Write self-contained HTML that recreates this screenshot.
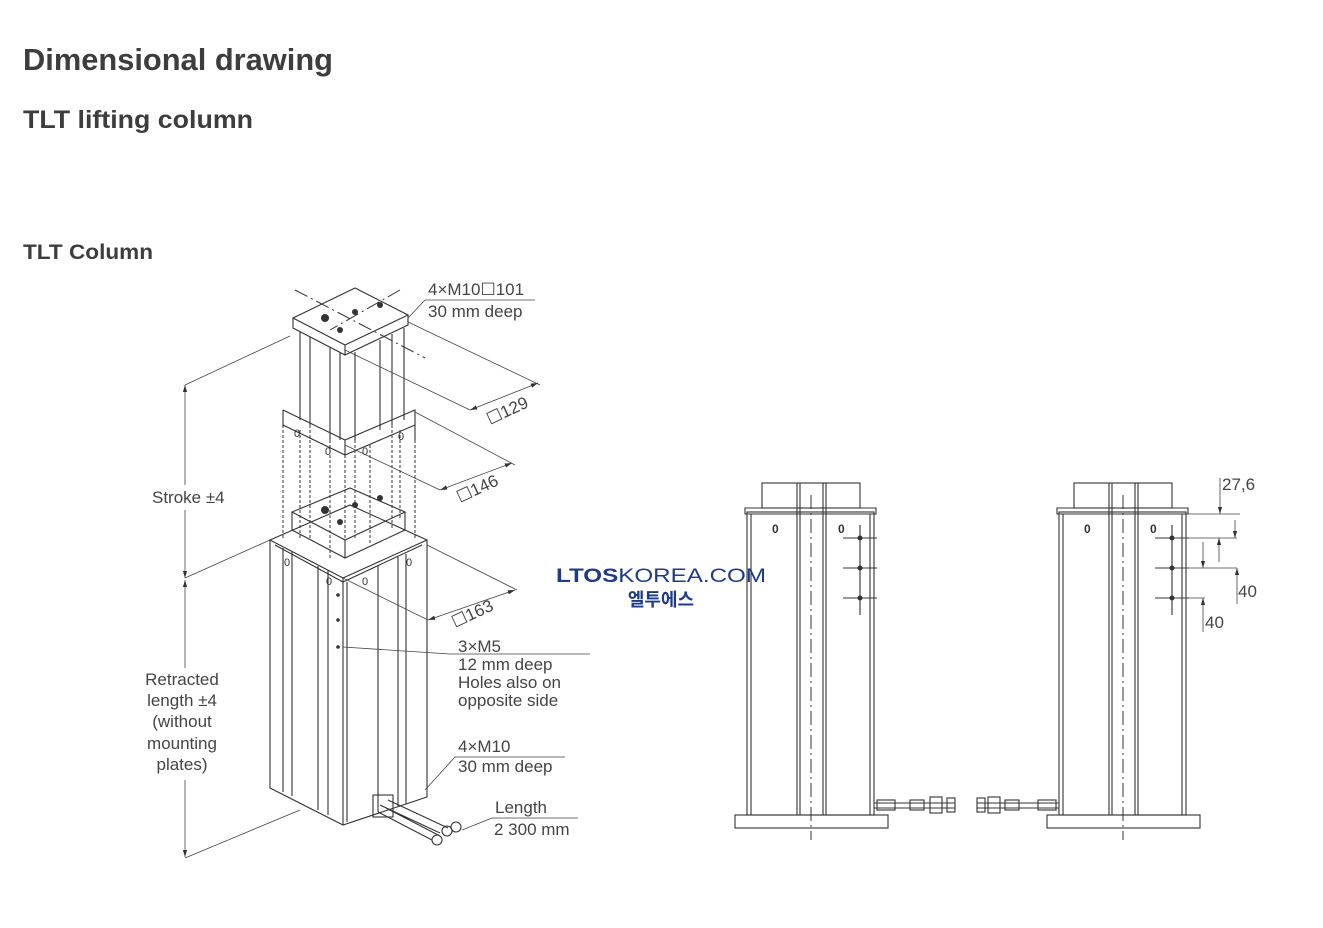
<!DOCTYPE html>
<html><head><meta charset="utf-8"><style>
html,body{margin:0;padding:0;background:#fff;width:1323px;height:928px;overflow:hidden}
svg{display:block}
.h{font-family:"Liberation Sans",sans-serif;font-weight:bold;fill:#3d3d3d}
.t{font-family:"Liberation Sans",sans-serif;fill:#444;font-size:17px}
.l{stroke:#333;stroke-width:1.1;fill:none}
.tl{stroke:#444;stroke-width:0.8;fill:none}
.d{stroke:#333;stroke-width:1;fill:none;stroke-dasharray:3 2}
.c{stroke:#333;stroke-width:1;fill:none;stroke-dasharray:14 4 2 4}
</style></head><body>
<svg width="1323" height="928" viewBox="0 0 1323 928">
<defs><marker id="a" viewBox="0 0 10 10" refX="10" refY="5" markerWidth="9" markerHeight="9" orient="auto-start-reverse"><path d="M0,2 L10,5 L0,8z" fill="#333"/></marker></defs>
<text class="h" x="23" y="70" font-size="31" textLength="310" lengthAdjust="spacingAndGlyphs">Dimensional drawing</text>
<text class="h" x="23" y="128" font-size="25" textLength="230" lengthAdjust="spacingAndGlyphs">TLT lifting column</text>
<text class="h" x="23" y="259" font-size="21" textLength="130" lengthAdjust="spacingAndGlyphs">TLT Column</text>

<g class="l">
<path d="M270,540 L343,578 L427,540 L427,797 L343,825 L270,788 Z"/>
<path d="M343,578 L343,825"/>
<path d="M270,540 L350,505 L427,540"/>
<path d="M275,545 L343,582 L422,545"/>
<path d="M283,548 L283,792 M292,552 L292,796 M318,566 L318,810 M328,570 L328,815 M347,582 L347,822 M378,566 L378,812 M398,557 L398,806 M406,554 L406,804"/>
<path d="M292,512 L345,540 L405,512 L350,488 Z"/>
<path d="M292,512 L292,530 L345,558 L405,530 L405,512"/>
<path d="M345,540 L345,558"/>
<path d="M283,410 L345,440 L415,410 L415,440 M283,410 L283,425 L345,455 L415,425"/>
<path d="M345,440 L345,455"/>
<path d="M293,318 L345,345 L408,315 L355,288 Z"/>
<path d="M293,318 L293,328 L345,355 L408,325 L408,315"/>
<path d="M345,345 L345,355"/>
<path d="M300,332 L300,420 M310,337 L310,425 M330,347 L330,440 M340,352 L340,440 M355,352 L355,440 M380,340 L380,430 M392,334 L392,425 M404,328 L404,420"/>
</g>
<g class="d">
<path d="M283,425 L283,540 M300,430 L300,540 M345,455 L345,560 M370,445 L370,545 M400,430 L400,520 M415,440 L415,540 M330,440 L330,560 M355,440 L355,540 M310,425 L310,540 M392,425 L392,530"/>
</g>
<g fill="#333">
<circle cx="325" cy="318" r="4"/><circle cx="355" cy="312" r="3"/><circle cx="380" cy="305" r="3"/><circle cx="340" cy="330" r="3"/>
<circle cx="325" cy="510" r="4"/><circle cx="355" cy="505" r="3"/><circle cx="380" cy="498" r="3"/><circle cx="340" cy="522" r="3"/>
<circle cx="338" cy="595" r="1.8"/><circle cx="338" cy="620" r="1.8"/><circle cx="338" cy="647" r="1.8"/>
</g>
<g font-family="Liberation Sans" font-size="11" fill="#333">
<text x="294" y="437">0</text><text x="325" y="455">0</text><text x="362" y="455">0</text><text x="398" y="440">0</text>
<text x="284" y="566">0</text><text x="326" y="585">0</text><text x="362" y="585">0</text><text x="406" y="566">0</text>
</g>
<path class="c" d="M295,290 L425,358 M400,290 L330,330"/>
<g class="l">
<rect x="373" y="795" width="20" height="22"/>
<path d="M380,805 L440,833 M388,800 L448,828 M378,812 L432,840 M386,808 L440,836"/>
<circle cx="447" cy="831" r="5"/><circle cx="437" cy="840" r="5"/><circle cx="456" cy="827" r="5"/>
</g>
<g class="tl">
<path d="M185,385 L290,336 M185,578 L270,540 M185,858 L300,810"/>
<path d="M185,385 L185,485 M185,510 L185,578" marker-start="url(#a)" marker-end="url(#a)"/>
<path d="M185,580 L185,668 M185,780 L185,857" marker-start="url(#a)" marker-end="url(#a)"/>
<path d="M408,322 L540,385 M345,350 L470,410"/>
<path d="M470,410 L538,383" marker-start="url(#a)" marker-end="url(#a)"/>
<path d="M415,412 L515,465 M345,445 L440,490"/>
<path d="M440,490 L512,463" marker-start="url(#a)" marker-end="url(#a)"/>
<path d="M427,545 L517,590 M343,578 L428,620"/>
<path d="M428,620 L515,590" marker-start="url(#a)" marker-end="url(#a)"/>
<path d="M408,318 L425,300 L535,300"/>
<path d="M343,647 L450,654 L590,654"/>
<path d="M425,790 L455,757 L565,757"/>
<path d="M462,830 L492,818 L578,818"/>
</g>
<g class="t">
<text x="428" y="295">4×M10☐101</text>
<text x="428" y="317">30 mm deep</text>
<text x="152" y="503">Stroke ±4</text>
<text x="182" y="685" text-anchor="middle">Retracted</text>
<text x="182" y="706" text-anchor="middle">length ±4</text>
<text x="182" y="727" text-anchor="middle">(without</text>
<text x="182" y="749" text-anchor="middle">mounting</text>
<text x="182" y="770" text-anchor="middle">plates)</text>
<text x="458" y="652">3×M5</text>
<text x="458" y="670">12 mm deep</text>
<text x="458" y="688">Holes also on</text>
<text x="458" y="706">opposite side</text>
<text x="458" y="752">4×M10</text>
<text x="458" y="772">30 mm deep</text>
<text x="495" y="813">Length</text>
<text x="494" y="835">2 300 mm</text>
<text transform="translate(490,425) rotate(-25)">☐129</text>
<text transform="translate(460,503) rotate(-25)">☐146</text>
<text transform="translate(455,628) rotate(-25)">☐163</text>
</g>
<text x="556" y="582" font-family="Liberation Sans" font-size="19" fill="#1e3a8a" textLength="210" lengthAdjust="spacingAndGlyphs"><tspan font-weight="bold">LTOS</tspan>KOREA.COM</text>
<text x="661" y="606" text-anchor="middle" font-family="'Liberation Sans','Noto Sans CJK KR',sans-serif" font-weight="bold" font-size="18" fill="#1e3a8a">엘투에스</text>

<g id="fv">
<g class="l">
<rect x="735" y="815" width="153" height="13"/>
<rect x="747" y="512" width="127" height="303"/>
<path d="M751,514 L751,815 M870,514 L870,815"/>
<rect x="762" y="483" width="98" height="25"/>
<path d="M745,508 L876,508 L876,514 L745,514Z"/>
<path d="M797,483 L797,815 M800,483 L800,815 M823,483 L823,815 M826,483 L826,815"/>
<path d="M843,538 L877,538 M843,568 L877,568 M843,598 L877,598 M860,525 L860,615"/>
</g>
<path class="c" d="M811,495 L811,840"/>
<g fill="#333"><circle cx="860" cy="538" r="2.5"/><circle cx="860" cy="568" r="2.5"/><circle cx="860" cy="598" r="2.5"/></g>
<g font-family="Liberation Sans" font-size="12" font-weight="bold" fill="#333"><text x="772" y="533">0</text><text x="838" y="533">0</text></g>
</g>
<use href="#fv" transform="translate(312,0)"/>
<g class="l">
<path d="M874,803 L955,803 M874,808 L955,808"/>
<rect x="877" y="800" width="18" height="10"/><rect x="910" y="800" width="14" height="10"/><rect x="930" y="797" width="12" height="16"/><rect x="947" y="798" width="8" height="14"/>
<path d="M977,803 L1059,803 M977,808 L1059,808"/>
<rect x="977" y="798" width="8" height="14"/><rect x="988" y="797" width="12" height="16"/><rect x="1005" y="800" width="14" height="10"/><rect x="1038" y="800" width="18" height="10"/>
</g>
<g class="tl">
<path d="M1186,514 L1240,514 M1172,538 L1237,538 M1172,568 L1237,568 M1172,598 L1205,598"/>
<path d="M1220,478 L1220,514" marker-end="url(#a)"/>
<path d="M1235,520 L1235,538" marker-end="url(#a)"/>
<path d="M1219,562 L1219,538" marker-end="url(#a)"/>
<path d="M1203,542 L1203,568" marker-end="url(#a)"/>
<path d="M1237,604 L1237,568" marker-end="url(#a)"/>
<path d="M1203,632 L1203,598" marker-end="url(#a)"/>
</g>
<g class="t"><text x="1222" y="490">27,6</text><text x="1238" y="597">40</text><text x="1205" y="628">40</text></g>
</svg>
</body></html>
